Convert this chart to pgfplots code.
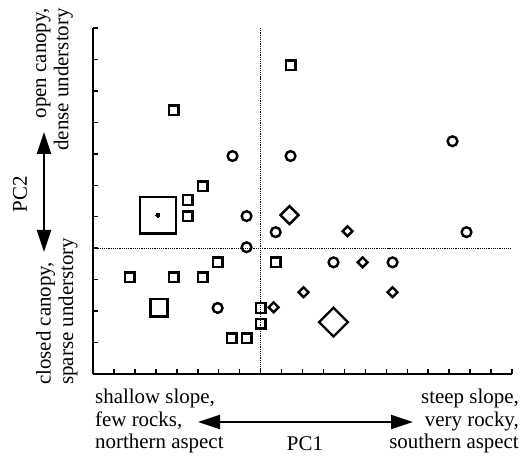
\documentclass[border=0pt]{standalone}
\usepackage{fontspec}
\setmainfont{Liberation Serif}
\usepackage{pgfplots}
\pgfplotsset{compat=1.18}
\usetikzlibrary{arrows.meta}

\begin{document}
\begin{tikzpicture}[lbl/.style={font=\fontsize{21}{22.5}\selectfont, inner sep=0pt}]
\useasboundingbox (-93bp,-82bp) rectangle (431bp,374bp);
\begin{axis}[
  at={(0,0)}, anchor=south west,
  scale only axis, width=419bp, height=346bp,
  xmin=-8, xmax=12, ymin=-4, ymax=7,
  axis lines*=left, clip=false,
  axis line style={line width=2bp},
  xtick={-7,...,12}, ytick={-3,...,7},
  xticklabel=\empty, yticklabel=\empty,
  tick align=inside, major tick length=5bp,
  tick style={line width=1.5bp, black},
  mk/.style={only marks, black, line width=2.4bp, mark options={solid, line width=2.4bp}}]
% reference lines through the origin
\draw[densely dotted, line width=1.2bp] (axis cs:0,-4) -- (axis cs:0,7);
\draw[densely dotted, line width=1.2bp] (axis cs:-8,0) -- (axis cs:12,0);
% small squares
\addplot[mk, mark=square, mark size=4.8] coordinates {
  (1.43,5.82)(-4.15,4.39)(-2.77,1.97)(-3.48,1.53)(-3.48,1.02)
  (-2.05,-0.45)(-6.25,-0.92)(-4.15,-0.92)(-2.77,-0.92)
  (-1.38,-2.86)(-0.67,-2.86)(0,-1.9)(0,-2.4)(0.72,-0.45)};
% larger squares
\addplot[mk, mark=square, mark size=18.3] coordinates {(-4.9,1.05)};
\addplot[mk, mark=*, mark size=2, mark options={line width=0pt}] coordinates {(-4.9,1.05)};
\addplot[mk, mark=square, mark size=8.7] coordinates {(-4.85,-1.9)};
% circles
\addplot[mk, mark=o, mark size=4.9] coordinates {
  (-1.34,2.93)(1.43,2.93)(9.16,3.40)(-0.67,1.02)(0.72,0.51)
  (9.83,0.51)(-0.67,0.03)(3.48,-0.45)(6.3,-0.45)(-2.05,-1.9)};
% diamonds
\addplot[mk, mark=square, mark size=3.5, mark options={rotate=45}] coordinates {
  (4.15,0.54)(4.87,-0.45)(2.05,-1.40)(6.3,-1.40)(0.62,-1.88)};
\addplot[mk, mark=square, mark size=6.4, mark options={rotate=45}] coordinates {(1.38,1.05)};
\addplot[mk, mark=square, mark size=10.2, mark options={rotate=45}] coordinates {(3.48,-2.35)};
\end{axis}
% PC1 annotation
\node[lbl, anchor=north west, align=left] at (2bp,-15bp) {shallow slope,\\few rocks,\\northern aspect};
\node[lbl, anchor=north east, align=right] at (426bp,-15bp) {steep slope,\\very rocky,\\southern aspect};
\draw[line width=1.8bp, {Triangle[length=22bp,width=14bp]}-{Triangle[length=22bp,width=14bp]}] (105bp,-48bp) -- (320bp,-48bp);
\node[lbl, anchor=base] at (212bp,-76bp) {PC1};
% PC2 annotation
\draw[line width=1.8bp, {Triangle[length=22bp,width=14bp]}-{Triangle[length=22bp,width=14bp]}] (-49bp,122bp) -- (-49bp,242bp);
\node[lbl, rotate=90] at (-73bp,180bp) {PC2};
\node[lbl, rotate=90, anchor=north east, align=right] at (-57bp,366bp) {open canopy,\\dense understory};
\node[lbl, rotate=90, anchor=north west, align=left] at (-57bp,-11bp) {closed canopy,\\sparse understory};
\end{tikzpicture}
\end{document}
